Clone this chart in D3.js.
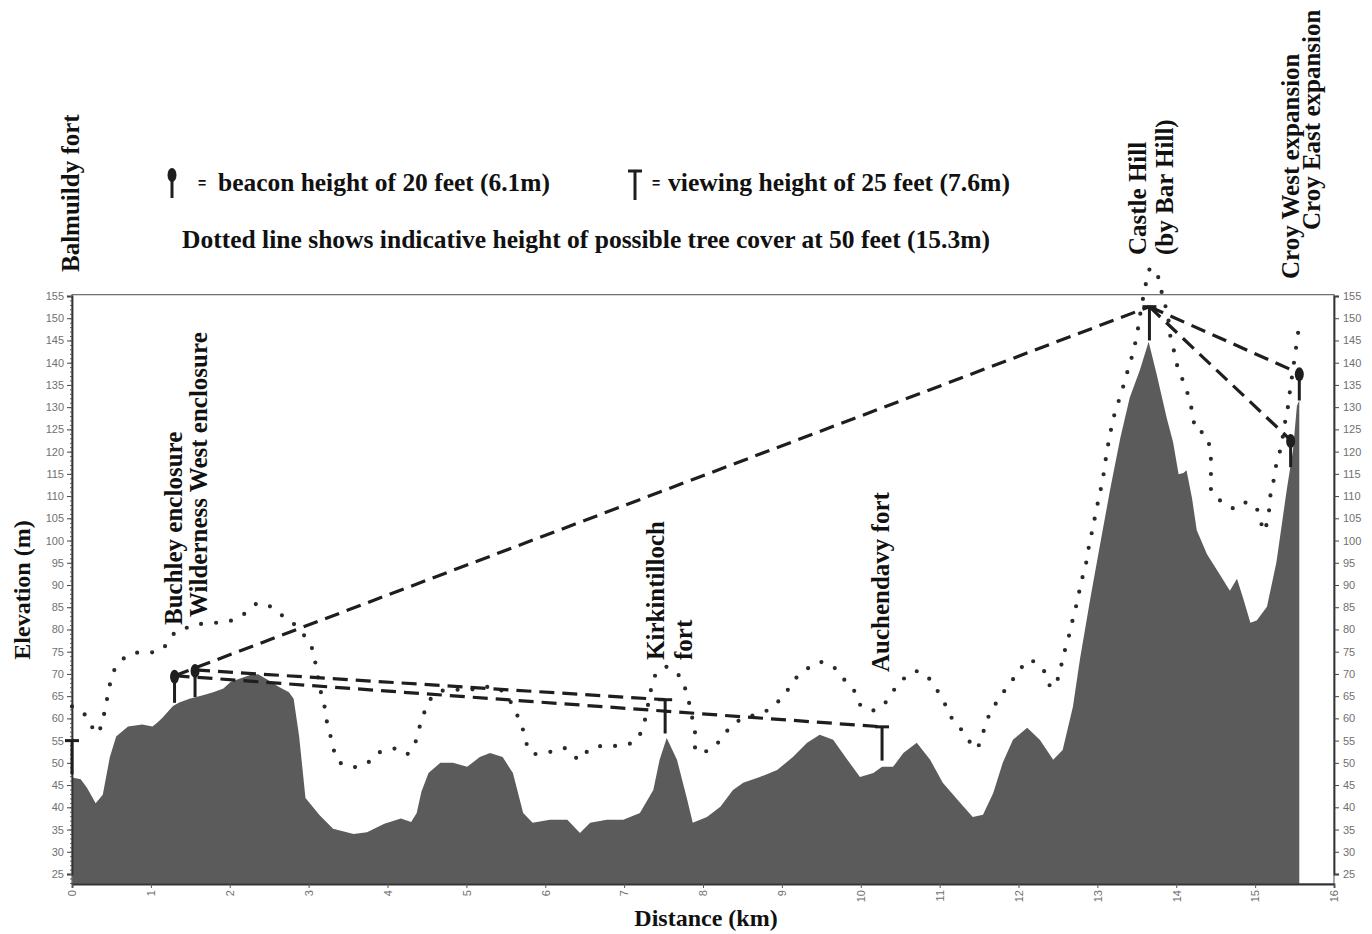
<!DOCTYPE html>
<html><head><meta charset="utf-8">
<script src="https://cdn.jsdelivr.net/npm/d3@7/dist/d3.min.js"></script>
<style>html,body{margin:0;padding:0;background:#fff;} svg{display:block;}</style>
</head><body><svg id="c" width="1372" height="934"></svg>
<script>
// ---------- DATA ----------
const terrainKm = [0.00,0.11,0.19,0.30,0.39,0.48,0.56,0.71,0.89,1.02,1.08,1.15,1.28,1.36,1.49,1.66,1.79,1.92,2.01,2.14,2.27,2.36,2.49,2.62,2.75,2.81,2.88,2.96,3.14,3.31,3.57,3.74,3.96,4.17,4.30,4.37,4.43,4.52,4.67,4.83,5.01,5.17,5.30,5.46,5.59,5.72,5.84,6.06,6.28,6.44,6.57,6.78,6.99,7.20,7.37,7.45,7.54,7.67,7.80,7.87,8.05,8.22,8.38,8.51,8.72,8.94,9.14,9.32,9.48,9.65,9.83,9.99,10.16,10.27,10.41,10.54,10.71,10.88,11.04,11.26,11.42,11.55,11.68,11.80,11.93,12.11,12.27,12.44,12.56,12.69,12.78,12.91,13.03,13.16,13.29,13.41,13.54,13.65,13.75,13.88,13.96,14.03,14.09,14.13,14.20,14.26,14.39,14.55,14.68,14.77,14.85,14.94,15.02,15.15,15.27,15.40,15.48,15.53,15.56];
const terrainElev = [46.7,46.3,44.4,40.9,42.8,51.3,55.9,58.2,58.6,58.2,59.0,60.2,62.8,63.6,64.4,65.2,65.9,66.7,68.2,69.0,69.8,69.9,68.6,67.1,65.9,64.4,55.9,42.1,38.2,35.2,34.0,34.4,36.3,37.5,36.7,38.7,43.5,47.7,50.0,50.0,49.1,51.3,52.2,51.3,47.7,38.7,36.5,37.2,37.2,34.2,36.5,37.2,37.2,38.7,43.9,50.7,55.6,50.7,41.7,36.5,37.8,40.1,43.9,45.5,46.8,48.4,51.3,54.5,56.3,55.2,50.7,46.8,47.7,49.1,49.1,52.2,54.5,50.7,45.5,41.0,37.8,38.3,43.2,50.0,55.2,57.9,55.2,50.7,52.9,62.6,73.4,86.9,98.7,111.3,123.0,132.1,138.4,144.7,137.5,127.5,122.1,114.9,115.2,115.8,109.5,102.3,96.9,92.4,88.7,91.4,86.9,81.5,82.0,85.1,95.1,111.3,120.3,130.3,131.5];

// indicative tree cover (dotted line)
const treeKm = [0.00,0.16,0.25,0.32,0.39,0.44,0.48,0.55,0.74,0.93,1.12,1.23,1.34,1.49,1.62,1.82,2.00,2.16,2.36,2.51,2.66,2.81,3.03,3.09,3.14,3.20,3.24,3.31,3.35,3.50,3.71,3.87,4.09,4.24,4.35,4.42,4.50,4.60,4.80,5.00,5.20,5.40,5.55,5.66,5.74,5.81,6.02,6.25,6.44,6.56,6.72,6.88,6.99,7.14,7.24,7.35,7.41,7.54,7.71,7.80,7.86,7.90,7.92,8.12,8.26,8.38,8.55,8.75,8.93,9.07,9.17,9.31,9.46,9.62,9.76,9.91,10.01,10.16,10.29,10.39,10.50,10.60,10.71,10.82,10.94,11.06,11.13,11.23,11.33,11.46,11.54,11.60,11.69,11.81,11.93,12.03,12.11,12.24,12.34,12.42,12.51,12.56,12.63,12.69,12.75,12.79,12.85,12.89,12.94,13.00,13.07,13.12,13.17,13.22,13.30,13.37,13.44,13.50,13.54,13.58,13.62,13.68,13.77,13.83,13.89,13.92,13.98,14.03,14.11,14.17,14.22,14.24,14.36,14.43,14.44,14.45,14.55,14.68,14.79,14.89,15.00,15.06,15.11,15.17,15.19,15.23,15.27,15.33,15.37,15.41,15.44,15.49,15.55];
const treeElev = [62.7,60.9,58.2,56.5,59.8,64.0,67.6,71.3,74.5,74.8,75.2,77.5,79.9,80.5,81.2,81.5,81.9,83.2,85.9,85.2,83.2,81.3,76.3,72.1,67.1,62.8,58.5,54.0,50.9,49.2,49.5,52.1,53.2,51.9,54.5,58.9,62.7,65.5,66.5,66.3,67.0,66.8,64.0,60.1,56.3,52.3,52.3,53.3,50.7,53.1,53.8,53.8,54.1,54.8,58.2,67.1,70.1,71.6,69.3,65.1,60.4,56.7,52.4,53.3,56.2,58.6,60.3,61.2,63.4,66.3,68.9,71.0,72.6,72.1,69.3,66.4,62.7,61.8,63.1,65.7,68.0,69.8,70.6,69.8,67.1,63.5,60.7,58.5,56.2,53.1,56.2,59.6,62.7,65.9,68.8,71.2,73.1,72.3,70.2,66.8,69.4,73.5,77.9,82.4,86.7,90.3,94.3,98.4,102.7,108.0,114.0,119.9,124.7,128.6,133.0,137.3,141.5,146.1,150.6,154.6,158.1,161.4,159.3,154.6,151.0,146.5,142.0,138.2,135.0,131.3,127.6,124.8,124.1,120.3,114.9,110.9,109.1,107.5,107.2,108.6,107.7,105.2,102.0,105.9,109.7,113.1,117.2,121.2,125.7,129.4,133.4,139.7,147.4];

// sites: viewing (7.6 m) or beacon (6.1 m) heights above ground
const siteNames = ["Balmuildy fort","Buchley enclosure","Wilderness West enclosure","Kirkintilloch fort","Auchendavy fort","Castle Hill (by Bar Hill)","Croy West expansion","Croy East expansion"];
const siteKm    = [0.00, 1.30, 1.56, 7.52, 10.27, 13.66, 15.45, 15.56];
const siteBase  = [47.4, 63.5, 64.8, 56.6, 50.5, 145.0, 116.5, 131.5];
const siteType  = ["view","beacon","beacon","view","view","view","beacon","beacon"];
const markerHeight = {beacon: 6.1, view: 7.6};

// lines of sight (indices into sites)
const sightFrom = [1, 2, 1, 5, 5];
const sightTo   = [5, 3, 4, 7, 6];

const xTickValues = d3.range(0, 17, 1);
const yTickValues = d3.range(25, 156, 5);
const yMinorValues = d3.range(23, 156, 1);

const legendBeacon = "beacon height of 20 feet (6.1m)";
const legendView = "viewing height of 25 feet (7.6m)";
const legendDotted = "Dotted line shows indicative height of possible tree cover at 50 feet (15.3m)";
const xTitle = "Distance (km)";
const yTitle = "Elevation (m)";

// ---------- DRAW ----------
const svg = d3.select("#c");
const x = d3.scaleLinear().domain([0, 16]).range([72, 1334]);
const y = d3.scaleLinear().domain([25, 155]).range([874, 296]);
const yBottom = 884;
const yTopFrame = y(155.3);
const serif = "'Liberation Serif','Times New Roman',serif";
const sans = "'Liberation Sans',Arial,sans-serif";
const ink = "#1e1e1e";

svg.append("rect").attr("width",1372).attr("height",934).attr("fill","#fff");

// terrain area
const terrain = terrainKm.map((k,i)=>[k, terrainElev[i]]);
svg.append("path").datum(terrain)
  .attr("d", d3.area().x(d=>x(d[0])).y0(yBottom).y1(d=>y(d[1])))
  .attr("fill", "#5b5b5b");

// frame
svg.append("rect").attr("x", x(0)).attr("y", yTopFrame)
  .attr("width", x(16)-x(0)).attr("height", yBottom - yTopFrame)
  .attr("fill","none").attr("stroke","#6a6a6a").attr("stroke-width",1.2);

// left axis
const gl = svg.append("g").attr("transform", `translate(${x(0)},0)`);
gl.call(d3.axisLeft(y).tickValues(yTickValues).tickSize(5).tickPadding(3));
gl.selectAll(".tick line").attr("stroke","#444");
gl.select(".domain").attr("stroke","#333").attr("stroke-width",1.8);
gl.selectAll("text").attr("font-family",sans).attr("font-size",11).attr("fill","#707070");
const glm = svg.append("g").attr("transform", `translate(${x(0)},0)`);
glm.call(d3.axisLeft(y).tickValues(yMinorValues).tickSize(2).tickFormat(""));
glm.select(".domain").remove();
glm.selectAll("line").attr("stroke","#555");

// right axis
const gr = svg.append("g").attr("transform", `translate(${x(16)},0)`);
gr.call(d3.axisRight(y).tickValues(yTickValues).tickSize(5).tickPadding(4));
gr.selectAll(".tick line").attr("stroke","#444");
gr.select(".domain").attr("stroke","#333").attr("stroke-width",1.8);
gr.selectAll("text").attr("font-family",sans).attr("font-size",11).attr("fill","#707070");

// bottom axis
const gb = svg.append("g").attr("transform", `translate(0,${yBottom})`);
gb.call(d3.axisBottom(x).tickValues(xTickValues).tickSize(4).tickFormat(d3.format("d")));
gb.select(".domain").attr("stroke","#333").attr("stroke-width",1.8);
gb.selectAll(".tick line").attr("stroke","#555");
gb.selectAll("text").attr("font-family",sans).attr("font-size",11).attr("fill","#707070")
  .attr("transform","rotate(-90)").attr("text-anchor","end")
  .attr("x",-6).attr("y",0).attr("dy","0.35em");

// tree cover dotted line
const tree = treeKm.map((k,i)=>[k, treeElev[i]]);
svg.append("path").datum(tree)
  .attr("d", d3.line().x(d=>x(d[0])).y(d=>y(d[1])).curve(d3.curveCatmullRom))
  .attr("fill","none").attr("stroke","#2a2a2a").attr("stroke-width",4.2)
  .attr("stroke-linecap","round").attr("stroke-dasharray","0 15");

// sites
const sites = siteNames.map((n,i)=>({name:n, km:siteKm[i], base:siteBase[i], type:siteType[i], top:siteBase[i]+markerHeight[siteType[i]]}));

// sight lines
sightFrom.forEach((f,i)=>{
  const a = sites[f], b = sites[sightTo[i]];
  svg.append("path").datum([a,b])
    .attr("d", d3.line().x(d=>x(d.km)).y(d=>y(d.top)))
    .attr("fill","none").attr("stroke",ink).attr("stroke-width",3.2)
    .attr("stroke-dasharray","15 8");
});

function drawBeacon(g, cx, yb, yt){
  g.append("line").attr("x1",cx).attr("x2",cx).attr("y1",yb).attr("y2",yt)
    .attr("stroke",ink).attr("stroke-width",3);
  g.append("ellipse").attr("cx",cx).attr("cy",yt+1).attr("rx",4.5).attr("ry",7).attr("fill",ink);
}
function drawView(g, cx, yb, yt){
  g.append("line").attr("x1",cx).attr("x2",cx).attr("y1",yb).attr("y2",yt)
    .attr("stroke",ink).attr("stroke-width",3);
  g.append("line").attr("x1",cx-7).attr("x2",cx+7).attr("y1",yt).attr("y2",yt)
    .attr("stroke",ink).attr("stroke-width",3);
}
const gm = svg.append("g");
sites.forEach(s=>{
  if (s.type === "beacon") drawBeacon(gm, x(s.km), y(s.base), y(s.top));
  else drawView(gm, x(s.km), y(s.base), y(s.top));
});

// site labels (rotated)
const labelLayout = [
  {t:"Balmuildy fort", cx:70, b:272},
  {t:"Buchley enclosure", cx:173, b:625},
  {t:"Wilderness West enclosure", cx:198, b:617},
  {t:"Kirkintilloch", cx:655, b:660},
  {t:"fort", cx:683, b:660},
  {t:"Auchendavy fort", cx:880, b:672},
  {t:"Castle Hill", cx:1137, b:255},
  {t:"(by Bar Hill)", cx:1164, b:255},
  {t:"Croy West expansion", cx:1290, b:279},
  {t:"Croy East expansion", cx:1311, b:230}
];
labelLayout.forEach(l=>{
  svg.append("text").attr("transform",`translate(${l.cx},${l.b}) rotate(-90)`)
    .attr("dy","0.35em").attr("font-family",serif).attr("font-weight","bold")
    .attr("font-size",25).attr("fill","#111").text(l.t);
});

// legend
const lg = svg.append("g");
drawBeacon(lg, 172, 198, 174);
lg.append("text").attr("x",198).attr("y",188).attr("font-family",sans).attr("font-size",14).attr("font-weight","bold").attr("fill","#111").text("=");
lg.append("text").attr("x",218).attr("y",191).attr("font-family",serif).attr("font-weight","bold")
  .attr("font-size",25).attr("fill","#111").attr("textLength",332).attr("lengthAdjust","spacingAndGlyphs").text(legendBeacon);
drawView(lg, 635, 200, 171);
lg.append("text").attr("x",652).attr("y",188).attr("font-family",sans).attr("font-size",14).attr("font-weight","bold").attr("fill","#111").text("=");
lg.append("text").attr("x",668).attr("y",191).attr("font-family",serif).attr("font-weight","bold")
  .attr("font-size",25).attr("fill","#111").attr("textLength",342).attr("lengthAdjust","spacingAndGlyphs").text(legendView);
lg.append("text").attr("x",182).attr("y",248).attr("font-family",serif).attr("font-weight","bold")
  .attr("font-size",25).attr("fill","#111").attr("textLength",808).attr("lengthAdjust","spacingAndGlyphs").text(legendDotted);

// axis titles
svg.append("text").attr("transform","translate(22,590) rotate(-90)").attr("text-anchor","middle")
  .attr("dy","0.35em").attr("font-family",serif).attr("font-weight","bold").attr("font-size",24).attr("fill","#111").text(yTitle);
svg.append("text").attr("x",706).attr("y",926).attr("text-anchor","middle")
  .attr("font-family",serif).attr("font-weight","bold").attr("font-size",24).attr("fill","#111").text(xTitle);
</script></body></html>
